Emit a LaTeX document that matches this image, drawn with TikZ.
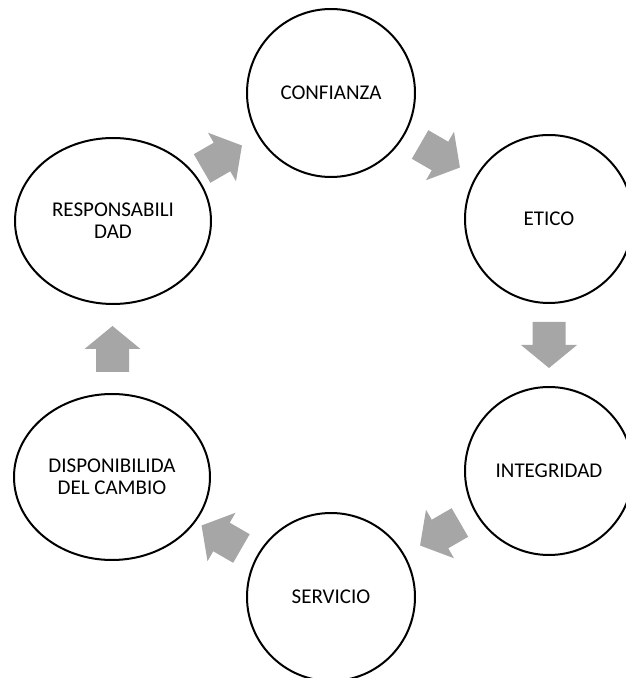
\documentclass[tikz,border=0pt]{standalone}
\usepackage{fontspec}
\setmainfont{Carlito}
\usetikzlibrary{shapes.geometric,calc}
\definecolor{grisflecha}{HTML}{A6A6A6}
\tikzset{
  ciclo/.style={draw=black, line width=2pt, ellipse, minimum width=168pt, minimum height=168pt,
    inner sep=0pt, align=center, font=\fontsize{21}{22}\selectfont},
  cicloancho/.style={ciclo, minimum width=196pt, minimum height=166pt},
  flecha/.style={fill=grisflecha}
}
\begin{document}
\begin{tikzpicture}[x=1pt,y=1pt]
  \useasboundingbox (0,0) rectangle (626,678);

  \node[ciclo] (conf) at (331,585) {CONFIANZA};
  \node[ciclo] (etico) at (549,459) {ETICO};
  \node[ciclo] (integ) at (549,207) {INTEGRIDAD};
  \node[ciclo] (serv) at (331,81) {SERVICIO};
  \node[cicloancho] (disp) at (112,201) {DISPONIBILIDA\\DEL CAMBIO};
  \node[cicloancho] (resp) at (113,457) {RESPONSABILI\\DAD};

  \foreach \from/\to/\ang in {resp/conf/30, conf/etico/-30, etico/integ/-90,
                              integ/serv/-150, serv/disp/150, disp/resp/90}
    \fill[flecha, shift={($(\from)!0.5!(\to)$)}, rotate=\ang]
      (-23,-16.5) -- (0,-16.5) -- (0,-28) -- (23,0) -- (0,28) -- (0,16.5) -- (-23,16.5) -- cycle;
\end{tikzpicture}
\end{document}
